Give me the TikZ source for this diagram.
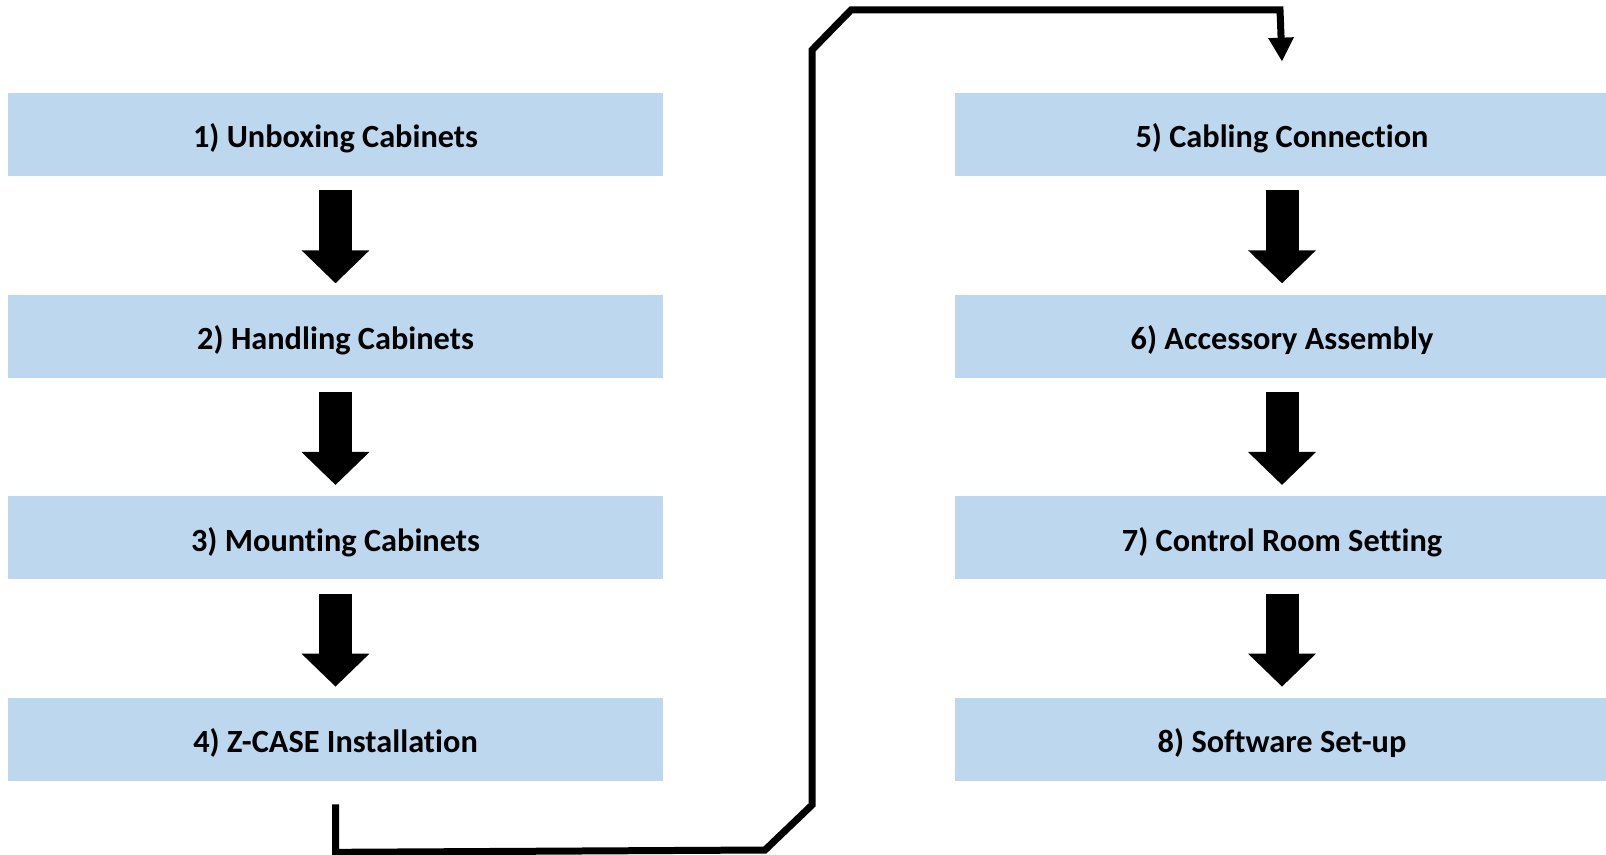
\documentclass[tikz,border=0pt]{standalone}
\usepackage{fontspec}
\setmainfont{Carlito}[Ligatures=NoCommon]
\usepackage{tikz}
\usetikzlibrary{arrows.meta, positioning}

\definecolor{stepblue}{HTML}{BDD7EE}

\begin{document}
\begin{tikzpicture}[
    x=0.02cm, y=-0.02cm,
    node distance=2.36cm and 5.82cm,
    stepbox/.style={rectangle, fill=stepblue, minimum width=13.1cm, minimum height=1.66cm, inner sep=0pt, align=center, text height=15.2pt, text depth=0pt, font=\fontsize{18.4}{22}\selectfont\bfseries},
    bigarrow/.style={line width=0.66cm, -{Triangle[width=1.32cm, length=0.66cm]}, shorten <=0.28cm, shorten >=0.22cm},
    flowline/.style={line width=0.14cm, -{Triangle[width=0.48cm, length=0.48cm]}}
]
    \useasboundingbox (0,0) rectangle (1606,855);

    % Nodes
    \node[stepbox] (unbox) at (335.5,134.5) {1) Unboxing Cabinets};
    \node[stepbox, below=of unbox] (handle) {2) Handling Cabinets};
    \node[stepbox, below=of handle] (mount) {3) Mounting Cabinets};
    \node[stepbox, below=of mount] (zcase) {4) Z-CASE Installation};

    \node[stepbox, right=of unbox] (cabling) {5) Cabling Connection};
    \node[stepbox, below=of cabling] (access) {6) Accessory Assembly};
    \node[stepbox, below=of access] (control) {7) Control Room Setting};
    \node[stepbox, below=of control] (software) {8) Software Set-up};

    % Connections
    \draw[bigarrow] (unbox) -- (handle);
    \draw[bigarrow] (handle) -- (mount);
    \draw[bigarrow] (mount) -- (zcase);
    \draw[bigarrow] (cabling) -- (access);
    \draw[bigarrow] (access) -- (control);
    \draw[bigarrow] (control) -- (software);

    \draw[flowline] ([yshift=-0.46cm]zcase.south) -- ++(0,48) -- (765,850) -- (812,805)
        -- (812,50) -- (851,10) -- (1280,10) -- ([yshift=0.62cm]cabling.north);

\end{tikzpicture}
\end{document}
